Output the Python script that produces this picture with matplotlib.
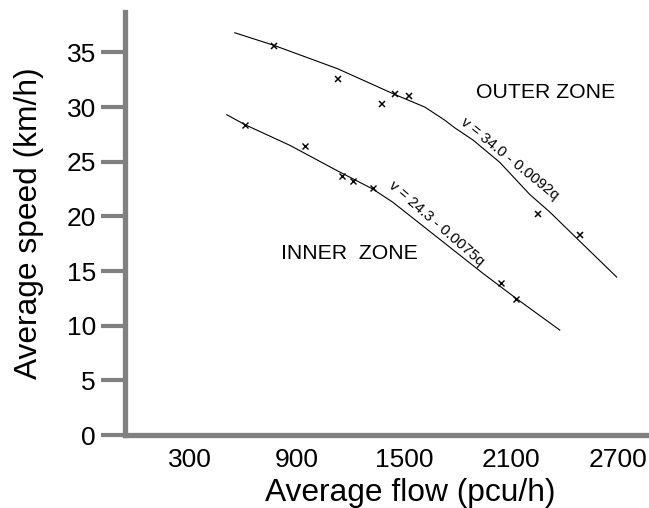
#!/usr/bin/env python3
"""
Speed-flow relationship for the inner and outer zones.
"""

import matplotlib
matplotlib.use('Agg')
import matplotlib.pyplot as plt
from matplotlib import font_manager

# fitted curves
outer_curve_q = [552, 771, 1130, 1450, 1618, 1730, 1786, 1887, 2038, 2207, 2319, 2470, 2694]
outer_curve_v = [36.8, 35.65, 33.5, 31.15, 30.0, 28.8, 28.1, 27.0, 24.95, 22.0, 20.4, 18.0, 14.45]
inner_curve_q = [507, 608, 861, 1124, 1326, 1438, 1943, 2134, 2375]
inner_curve_v = [29.3, 28.4, 26.5, 24.2, 22.5, 21.3, 14.8, 12.45, 9.6]

# observed points
outer_obs_q = [773, 1132, 1375, 1453, 1528, 2253, 2487]
outer_obs_v = [35.6, 32.6, 30.3, 31.2, 31.0, 20.2, 18.3]
inner_obs_q = [608, 945, 1156, 1216, 1328, 2048, 2132]
inner_obs_v = [28.4, 26.4, 23.7, 23.2, 22.6, 13.9, 12.4]

x_ticks = [300, 900, 1500, 2100, 2700]
y_ticks = [0, 5, 10, 15, 20, 25, 30, 35]

outer_eq = "v = 34.0 - 0.0092q"
inner_eq = "v = 24.3 - 0.0075q"

plt.rcParams['font.family'] = ['Liberation Sans', 'DejaVu Sans']

# narrow face for the equations if it is there
names = {f.name for f in font_manager.fontManager.ttflist}
if 'Liberation Sans Narrow' in names:
    eq_font, eq_size = 'Liberation Sans Narrow', 12.5
else:
    eq_font, eq_size = 'Liberation Sans', 10.8

fig = plt.figure(figsize=(6.49, 5.08), dpi=100)
ax = fig.add_axes([0.1926, 0.1437, 0.807, 0.8327])

ax.plot(outer_curve_q, outer_curve_v, color='black', lw=0.8)
ax.plot(inner_curve_q, inner_curve_v, color='black', lw=0.8)
ax.plot(outer_obs_q, outer_obs_v, 'x', color='black', ms=4, mew=1.1)
ax.plot(inner_obs_q, inner_obs_v, 'x', color='black', ms=4, mew=1.0)

ax.text(2081, 25.0, outer_eq, rotation=-39, fontsize=eq_size, family=eq_font,
        ha='center', va='baseline', rotation_mode='anchor')
ax.text(1666, 19.05, inner_eq, rotation=-41, fontsize=eq_size, family=eq_font,
        ha='center', va='baseline', rotation_mode='anchor')
ax.text(2296, 31.35, "OUTER ZONE", fontsize=15.3, ha='center', va='center')
ax.text(1197, 16.6, "INNER  ZONE", fontsize=15.3, ha='center', va='center')

ax.set_xlim(-64, 2874)
ax.set_ylim(0, 38.7)
ax.set_xticks(x_ticks)
ax.set_yticks(y_ticks)

spine_color = '#808080'
for side in ['top', 'right']:
    ax.spines[side].set_visible(False)
for side in ['left', 'bottom']:
    ax.spines[side].set_color(spine_color)
    ax.spines[side].set_linewidth(3.8)
ax.spines['bottom'].set_zorder(0)

ax.tick_params(axis='y', length=17, width=3, color=spine_color,
               labelsize=19, pad=4)
ax.tick_params(axis='x', length=0, labelsize=19, pad=9)

ax.set_xlabel("Average flow (pcu/h)", fontsize=22.9)
ax.set_ylabel("Average speed (km/h)", fontsize=22.9)
ax.xaxis.set_label_coords(0.545, -0.102)
ax.yaxis.set_label_coords(-0.155, 0.5)

fig.savefig('out.png', dpi=100)
